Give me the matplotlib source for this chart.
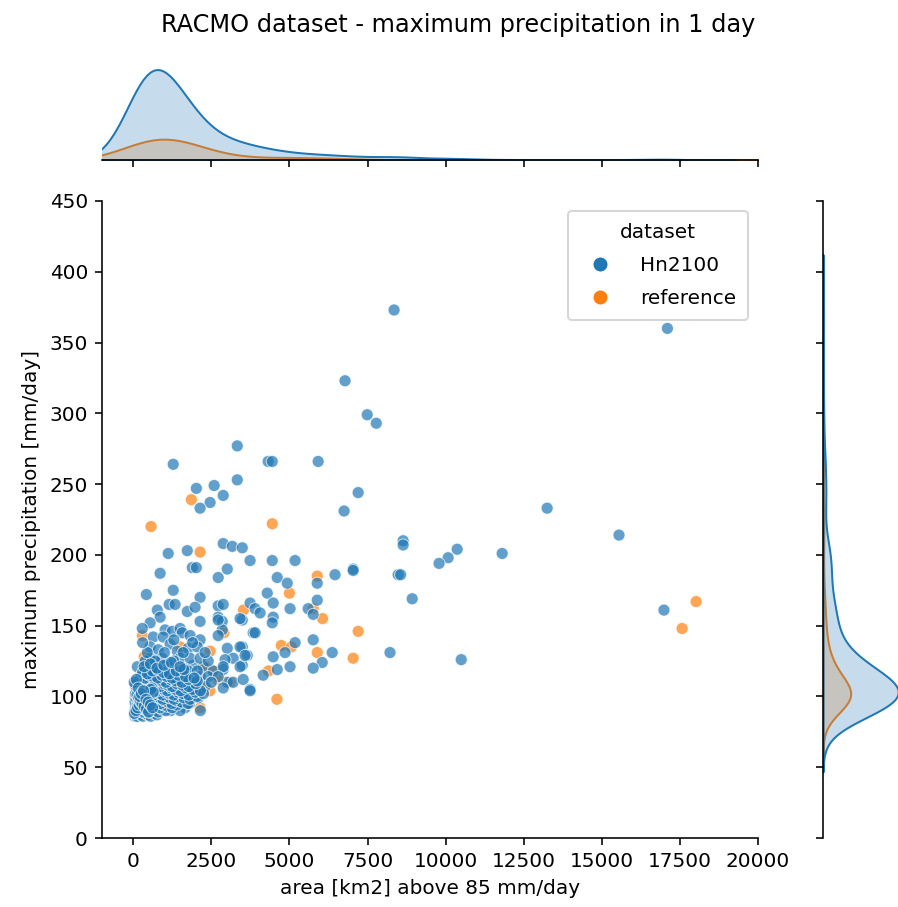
import numpy as np
import pandas as pd
import matplotlib
matplotlib.use("Agg")
import matplotlib.pyplot as plt
import seaborn as sns

# Hn2100: punti isolati + nuvola
hn_x = [8350, 17100, 6780, 7490, 7780, 3330, 1280, 4320, 4450, 5920,
        3330, 2590, 2020, 2880, 7200, 2460, 2140, 6750, 13250, 15550,
        8640, 8640, 10370, 10080, 9790, 11810, 2880, 3170, 3490, 1120,
        1730, 3740, 4450, 5180, 3010, 7040, 7040, 860, 1890, 2020,
        2720, 4610, 4930, 6460, 8480, 8560, 5890, 8930, 16990, 1280,
        420, 2140, 4290, 4480, 3740, 3900, 4060, 2720, 2880, 1150,
        1340, 770, 1730, 1980, 2720, 3490, 4480, 4450, 5020, 5600,
        5760, 5890, 3420, 2850, 2850, 3840, 3900, 5180, 5760, 4860,
        4480, 6370, 6050, 5760, 5020, 4610, 4160, 8220, 10500, 3490,
        3650, 3490, 3010, 3420, 3580, 3200, 3420, 2940, 2880, 3010,
        3200, 3520, 2880, 3740, 3740,
        # nuvola
        860, 540, 2140, 2720, 290, 1020, 1250, 1500, 1570, 1820,
        640, 960, 2140, 2720, 540, 800, 1180, 1410, 1760, 2050,
        130, 450, 770, 1090, 1410, 1660, 1920, 2240, 2560, 2880,
        540, 920, 1500, 1820, 2140, 220, 540, 860, 1180, 1500,
        1820, 2140, 2400, 2720, 100, 420, 670, 1020, 1340, 1660,
        1980, 2300, 60, 350, 670, 930, 1250, 1500, 1760, 2080,
        100, 320, 580, 830, 1090, 1340, 1660, 100, 260, 450,
        200, 480, 720, 960, 1200, 1500, 180, 400, 620, 850,
        1100, 1400, 1800, 150, 300, 520, 760, 1000, 1200, 1450,
        1700, 2000, 250, 600, 900, 1300, 1600, 2500, 350, 700,
        1000, 1250, 1750, 2050, 380, 700, 1300, 2400, 450, 1000,
        1600, 2300, 300, 1300, 1900, 50, 150, 300, 2150, 700,
        # nucleo denso
        60, 120, 180, 240, 310, 380, 470, 560, 650, 760,
        50, 110, 170, 230, 290, 360, 430, 510, 600, 700, 800, 920, 1050,
        80, 140, 200, 270, 340, 420, 500, 580, 670, 760, 860, 970, 1100, 1250, 1400,
        60, 130, 200, 270, 350, 430, 510, 600, 690, 780, 880, 990, 1110, 1240, 1380,
        1550, 1750,
        90, 160, 240, 320, 400, 480, 570, 660, 750, 850, 950, 1060, 1180, 1310, 1450,
        1620, 1820, 2050,
        70, 150, 230, 310, 390, 470, 560, 650, 740, 840, 940, 1050, 1170, 1300, 1440,
        1600, 1780, 1990, 2250,
        110, 200, 290, 380, 470, 560, 660, 760, 860, 970, 1090, 1220, 1360, 1520, 1700,
        1900, 2150,
        140, 240, 340, 440, 540, 640, 750, 860, 980, 1110, 1250, 1400, 1580, 1780, 2000,
        180, 300, 420, 540, 660, 780, 910, 1050, 1200, 1370, 1560, 1780, 2050,
        250, 380, 510, 640, 780, 920, 1080, 1250, 1450, 1680, 1950,
        300, 460, 620, 790, 970, 1160, 1380, 1620,
        350, 550, 760, 980, 1220, 1500,
        # angolo in basso a sinistra
        40, 90, 140, 190, 250, 320, 390, 460, 530, 600,
        70, 120, 170, 220, 280, 350, 420, 490, 560, 640,
        30, 100, 160, 210, 260, 330, 410, 480, 550, 620]
hn_y = [373, 360, 323, 299, 293, 277, 264, 266, 266, 266,
        253, 249, 247, 242, 244, 237, 233, 231, 233, 214,
        210, 207, 204, 198, 194, 201, 208, 206, 205, 201,
        203, 196, 196, 196, 190, 190, 189, 187, 191, 191,
        184, 184, 180, 186, 186, 186, 180, 169, 161, 175,
        172, 170, 173, 166, 166, 162, 159, 164, 165, 165,
        165, 161, 160, 163, 156, 154, 156, 152, 162, 162,
        158, 168, 155, 153, 147, 145, 145, 138, 140, 131,
        128, 131, 124, 120, 121, 119, 115, 131, 126, 135,
        129, 122, 134, 135, 129, 127, 121, 126, 119, 110,
        110, 112, 106, 105, 104,
        156, 152, 153, 154, 148, 147, 146, 148, 145, 143,
        142, 142, 140, 143, 135, 133, 137, 132, 134, 135,
        121, 121, 122, 122, 120, 120, 122, 121, 118, 121,
        127, 127, 127, 127, 127, 114, 114, 114, 114, 114,
        114, 114, 114, 114, 107, 107, 107, 107, 107, 107,
        107, 107, 99, 99, 99, 99, 99, 99, 99, 99,
        92, 92, 92, 92, 92, 92, 92, 88, 88, 88,
        90, 90, 90, 90, 90, 90, 95, 95, 95, 95,
        95, 95, 95, 103, 103, 103, 103, 103, 103, 103,
        103, 103, 110, 110, 110, 110, 110, 110, 118, 118,
        118, 118, 118, 118, 125, 125, 125, 125, 131, 131,
        131, 131, 138, 140, 138, 86, 86, 87, 90, 96,
        # nucleo denso
        87, 86, 88, 87, 86, 88, 87, 86, 88, 87,
        90, 89, 91, 90, 89, 91, 90, 89, 91, 90, 89, 91, 90,
        93, 92, 94, 93, 92, 94, 93, 92, 94, 93, 92, 94, 93, 92, 94,
        96, 95, 97, 96, 95, 97, 96, 95, 97, 96, 95, 97, 96, 95, 97,
        96, 95,
        99, 98, 100, 99, 98, 100, 99, 98, 100, 99, 98, 100, 99, 98, 100,
        99, 98, 100,
        102, 101, 103, 102, 101, 103, 102, 101, 103, 102, 101, 103, 102, 101, 103,
        102, 101, 103, 102,
        105, 104, 106, 105, 104, 106, 105, 104, 106, 105, 104, 106, 105, 104, 106,
        105, 104,
        108, 107, 109, 108, 107, 109, 108, 107, 109, 108, 107, 109, 108, 107, 109,
        111, 110, 112, 111, 110, 112, 111, 110, 112, 111, 110, 112, 111,
        114, 113, 115, 114, 113, 115, 114, 113, 115, 114, 113,
        117, 116, 118, 119, 117, 116, 118, 119,
        121, 123, 120, 122, 124, 121,
        # angolo in basso a sinistra
        88, 90, 92, 94, 96, 98, 100, 102, 104, 106,
        108, 101, 99, 97, 95, 93, 91, 89, 105, 103,
        110, 112, 106, 100, 102, 104, 98, 96, 94, 92]

# reference: punti visibili + punti nascosti sotto la nuvola blu
ref_x = [570, 1860, 4450, 2140, 5000, 5890, 18020, 17570, 7200, 7040,
         6060, 5890, 4740, 5060, 4600, 2140, 3530, 5760, 4330, 2460,
         2900, 290, 350, 1500,
         100, 320, 580, 830, 1090, 1340, 420, 670, 1020, 1340,
         1660, 350, 670, 930, 1250, 1500, 220, 540, 860, 1180,
         1500, 1820, 450, 770, 1090, 1410, 150, 300, 520, 760,
         1000, 1200, 1450, 1700, 2000, 400, 620, 850, 1100, 1400,
         2300, 2560,
         160, 400, 650, 950, 1310, 1620, 240, 560, 860, 1220,
         1900, 380, 660, 1050, 1440, 200, 510, 880, 1250, 1750,
         130, 280, 430, 600, 780, 980, 1180, 1400, 1650, 1950,
         2300, 2700, 210, 470, 730, 1040, 1360, 1800, 2450, 90,
         360, 690, 1130, 1570, 3100]
ref_y = [220, 239, 222, 202, 173, 185, 167, 148, 146, 127,
         155, 131, 136, 135, 98, 92, 161, 162, 118, 132,
         145, 143, 128, 135,
         92, 92, 92, 92, 92, 92, 107, 107, 107, 107,
         107, 99, 99, 99, 99, 99, 114, 114, 114, 114,
         114, 114, 121, 122, 122, 120, 103, 103, 103, 103,
         103, 103, 103, 103, 103, 95, 95, 95, 95, 95,
         121, 118,
         98, 98, 99, 98, 98, 99, 101, 101, 101, 102,
         99, 105, 104, 105, 104, 96, 96, 97, 96, 95,
         94, 100, 106, 112, 118, 97, 103, 109, 115, 100,
         106, 112, 91, 97, 103, 109, 100, 96, 104, 101,
         115, 124, 93, 120, 110]

categorie = ["Hn2100", "reference"]
x_ticks = np.arange(0, 20001, 2500)
y_ticks = np.arange(0, 451, 50)

df = pd.concat([
    pd.DataFrame({"area": ref_x, "pmax": ref_y, "dataset": "reference"}),
    pd.DataFrame({"area": hn_x, "pmax": hn_y, "dataset": "Hn2100"}),
], ignore_index=True)

g = sns.jointplot(data=df, x="area", y="pmax", hue="dataset",
                  hue_order=categorie, alpha=0.7, height=6)

W, H = 898, 907
fig = g.figure
fig.set_size_inches(W / 144, H / 144)
fig.set_dpi(144)

g.ax_joint.set_position([102 / W, (H - 838) / H, (758 - 102) / W, (838 - 201) / H])
g.ax_marg_x.set_position([102 / W, (H - 160) / H, (758 - 102) / W, (160 - 65) / H])
g.ax_marg_y.set_position([823 / W, (H - 838) / H, 79 / W, (838 - 201) / H])

g.ax_joint.set_xlim(-1000, 20000)
g.ax_joint.set_ylim(0, 450)
g.ax_joint.set_xticks(x_ticks)
g.ax_joint.set_yticks(y_ticks)
g.ax_joint.set_xlabel("area [km2] above 85 mm/day")
g.ax_joint.set_ylabel("maximum precipitation [mm/day]")

# legenda con marker pieni
leg = g.ax_joint.get_legend()
handles = leg.legend_handles
for h in handles:
    h.set_alpha(1)
    h.set_markersize(7.5)
g.ax_joint.legend(handles, categorie, title="dataset", loc="upper right",
                  borderaxespad=0.5, labelspacing=0.7, handletextpad=1.0,
                  borderpad=0.6)

fig.text(458 / W, 1 - 25 / H, "RACMO dataset - maximum precipitation in 1 day",
         ha="center", va="center", fontsize=12)

fig.savefig("out.png", dpi=144)
